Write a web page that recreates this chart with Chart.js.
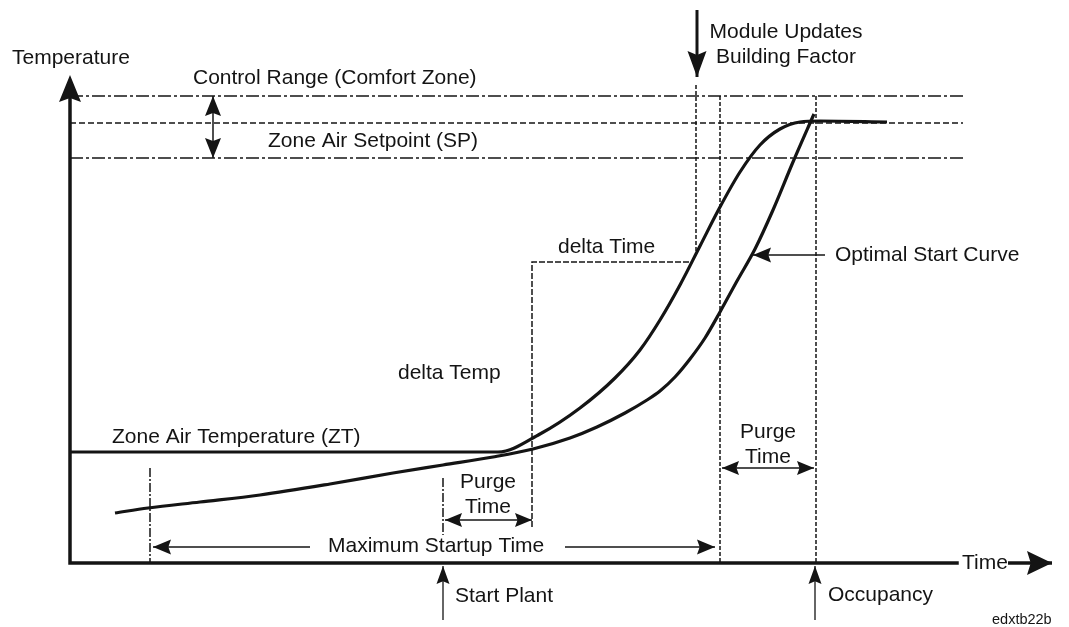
<!DOCTYPE html>
<html>
<head>
<meta charset="utf-8">
<script src="https://cdn.jsdelivr.net/npm/chart.js@4"></script>
<style>
  body { margin: 0; background: #fff; }
  #wrap { width: 1069px; height: 627px; position: relative; }
</style>
</head>
<body>
<div id="wrap"><canvas id="myChart"></canvas></div>
<script>
// schematic units: time runs right from the origin, temperature runs up
const timeZT = [0, 428, 470, 510, 545, 570, 590, 610, 630, 650, 670, 690, 710, 730, 750, 817];
const tempZT = [111, 111, 129, 155, 185, 213, 243, 278, 317, 356, 391, 418, 434, 441, 442, 441];

const timeOpt = [45, 78, 130, 190, 260, 323, 373, 423, 463, 500, 527, 555, 577, 590, 605, 620, 635, 650, 667, 685, 703, 723, 744];
const tempOpt = [50, 55, 61, 68, 79, 90, 98, 106, 114, 125, 136, 150, 163, 172, 186, 204, 225, 251, 282, 314, 353, 401, 449];

// temperature levels
const controlHigh = 467;
const setpoint = 440;
const controlLow = 405;
const deltaTimeLevel = 301;
const lineEnd = 893;

// time marks
const maxStartMark = 80;
const startPlantMark = 373;
const purgeEndMark = 462;
const moduleMark = 626;
const deltaTimeEnd = 620;
const purgeStartMark = 650;
const occupancyMark = 746;

const pts = (xs, ys) => xs.map((v, i) => ({ x: v, y: ys[i] }));
const ink = '#141414';

function refLine(data, dash, width) {
    return {
        data: data,
        borderColor: ink,
        borderWidth: width || 1.5,
        borderDash: dash,
        showLine: true,
        pointRadius: 0,
        tension: 0,
        order: 5
    };
}

const labels = [
    { t: 'Temperature', x: -58, y: 505, a: 'left' },
    { t: 'Control Range (Comfort Zone)', x: 123, y: 485, a: 'left' },
    { t: 'Zone Air Setpoint (SP)', x: 198, y: 422, a: 'left' },
    { t: 'Module Updates', x: 716, y: 531, a: 'center' },
    { t: 'Building Factor', x: 716, y: 506, a: 'center' },
    { t: 'delta Time', x: 488, y: 316, a: 'left' },
    { t: 'Optimal Start Curve', x: 765, y: 308, a: 'left' },
    { t: 'delta Temp', x: 328, y: 190, a: 'left' },
    { t: 'Zone Air Temperature (ZT)', x: 42, y: 126, a: 'left' },
    { t: 'Purge', x: 418, y: 81, a: 'center' },
    { t: 'Time', x: 418, y: 56, a: 'center' },
    { t: 'Purge', x: 698, y: 131, a: 'center' },
    { t: 'Time', x: 698, y: 106, a: 'center' },
    { t: 'Maximum Startup Time', x: 258, y: 17, a: 'left' },
    { t: 'Start Plant', x: 385, y: -33, a: 'left' },
    { t: 'Occupancy', x: 758, y: -32, a: 'left' },
    { t: 'Time', x: 892, y: 0, a: 'left' },
    { t: 'edxtb22b', x: 922, y: -57, a: 'left', small: true }
];

function head(ctx, x1, y1, x2, y2, len, half) {
    const ang = Math.atan2(y2 - y1, x2 - x1);
    ctx.save();
    ctx.translate(x2, y2);
    ctx.rotate(ang);
    ctx.beginPath();
    ctx.moveTo(0, 0);
    ctx.lineTo(-len, -half);
    ctx.lineTo(-len * 0.85, 0);
    ctx.lineTo(-len, half);
    ctx.closePath();
    ctx.fill();
    ctx.restore();
}

function arrow(ctx, x1, y1, x2, y2, o) {
    ctx.lineWidth = o.w;
    ctx.beginPath();
    ctx.moveTo(x1, y1);
    ctx.lineTo(x2, y2);
    ctx.stroke();
    head(ctx, x1, y1, x2, y2, o.len, o.half);
    if (o.both) head(ctx, x2, y2, x1, y1, o.len, o.half);
}

const diagram = {
    id: 'diagram',
    afterDatasetsDraw(chart) {
        const ctx = chart.ctx;
        const sx = chart.scales.x, sy = chart.scales.y;
        const px = v => sx.getPixelForValue(v);
        const py = v => sy.getPixelForValue(v);
        ctx.save();
        ctx.strokeStyle = ink;
        ctx.fillStyle = ink;

        // axes
        ctx.lineCap = 'square';
        ctx.lineWidth = 3.5;
        ctx.beginPath();
        ctx.moveTo(px(0), py(470));
        ctx.lineTo(px(0), py(0));
        ctx.lineTo(px(887), py(0));
        ctx.stroke();
        ctx.lineCap = 'butt';
        head(ctx, px(0), py(0), px(0), py(488), 27, 11);
        arrow(ctx, px(938), py(0), px(982), py(0), { w: 3.5, len: 25, half: 12 });

        // annotation arrows
        arrow(ctx, px(143), py(controlHigh), px(143), py(controlLow), { w: 1.5, len: 20, half: 8, both: true });
        arrow(ctx, px(627), py(553), px(627), py(486), { w: 3, len: 26, half: 9.5 });
        arrow(ctx, px(375), py(43), px(purgeEndMark), py(43), { w: 1.5, len: 17, half: 7, both: true });
        arrow(ctx, px(652), py(95), px(occupancyMark - 2), py(95), { w: 1.5, len: 17, half: 7, both: true });
        arrow(ctx, px(240), py(16), px(83), py(16), { w: 1.3, len: 18, half: 7.5 });
        arrow(ctx, px(495), py(16), px(645), py(16), { w: 1.3, len: 18, half: 7.5 });
        arrow(ctx, px(755), py(308), px(683), py(308), { w: 1.3, len: 18, half: 7.5 });
        arrow(ctx, px(startPlantMark), py(-57), px(startPlantMark), py(-3), { w: 1.3, len: 18, half: 6.5 });
        arrow(ctx, px(745), py(-57), px(745), py(-3), { w: 1.3, len: 18, half: 6.5 });

        // text
        ctx.textBaseline = 'middle';
        labels.forEach(l => {
            ctx.font = (l.small ? '14.5px' : '21px') + ' "Liberation Sans", Arial, sans-serif';
            ctx.textAlign = l.a;
            ctx.fillText(l.t, px(l.x), py(l.y));
        });
        ctx.restore();
    }
};

const ctx = document.getElementById('myChart');

new Chart(ctx, {
    type: 'scatter',
    data: {
        datasets: [
            {
                label: 'Zone Air Temperature (ZT)',
                data: pts(timeZT, tempZT),
                borderColor: ink,
                borderWidth: 3.2,
                showLine: true,
                pointRadius: 0,
                cubicInterpolationMode: 'monotone',
                order: 1
            },
            {
                label: 'Optimal Start Curve',
                data: pts(timeOpt, tempOpt),
                borderColor: ink,
                borderWidth: 3.2,
                showLine: true,
                pointRadius: 0,
                cubicInterpolationMode: 'monotone',
                order: 1
            },
            refLine([{ x: 0, y: controlHigh }, { x: lineEnd, y: controlHigh }], [13, 3, 3, 3]),
            refLine([{ x: 0, y: setpoint }, { x: lineEnd, y: setpoint }], [6, 3]),
            refLine([{ x: 0, y: controlLow }, { x: lineEnd, y: controlLow }], [13, 3, 3, 3]),
            refLine([{ x: moduleMark, y: 478 }, { x: moduleMark, y: 311 }], [4, 2]),
            refLine([{ x: purgeStartMark, y: controlHigh }, { x: purgeStartMark, y: 0 }], [4, 2]),
            refLine([{ x: occupancyMark, y: controlHigh }, { x: occupancyMark, y: 0 }], [4, 2]),
            refLine([{ x: purgeEndMark, y: 36 }, { x: purgeEndMark, y: deltaTimeLevel }, { x: deltaTimeEnd, y: deltaTimeLevel }], [6, 2]),
            refLine([{ x: startPlantMark, y: 85 }, { x: startPlantMark, y: 28 }], [9, 2, 2, 2]),
            refLine([{ x: maxStartMark, y: 95 }, { x: maxStartMark, y: 0 }], [9, 2, 2, 2])
        ]
    },
    options: {
        responsive: true,
        maintainAspectRatio: false,
        animation: false,
        layout: { padding: { left: 70, right: 0, top: 0, bottom: 64 } },
        scales: {
            x: { type: 'linear', min: 0, max: 999, display: false },
            y: { type: 'linear', min: 0, max: 563, display: false }
        },
        plugins: {
            legend: { display: false },
            tooltip: { enabled: false }
        }
    },
    plugins: [diagram]
});
</script>
</body>
</html>
